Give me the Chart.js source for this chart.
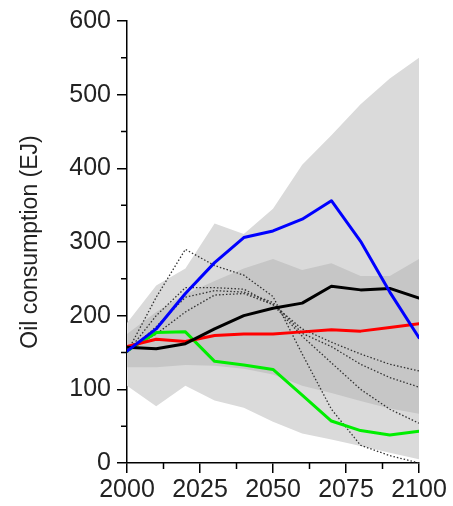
<!DOCTYPE html>
<html><head><meta charset="utf-8">
<script src="https://cdn.jsdelivr.net/npm/chart.js@4/dist/chart.umd.min.js"></script>
<style>html,body{margin:0;padding:0;background:#fff;overflow:hidden}</style>
</head><body>
<canvas id="c" width="453" height="506"></canvas>
<script>
// ---- data ----
const years = [2000, 2010, 2020, 2030, 2040, 2050, 2060, 2070, 2080, 2090, 2100];
const blueSeries  = [152, 182, 230, 272, 306, 315, 331, 356, 301, 232, 170];
const blackSeries = [157, 155, 162, 182, 200, 210, 217, 240, 235, 237, 224];
const redSeries   = [158, 168, 165, 173, 175, 175, 178, 181, 179, 184, 189];
const greenSeries = [152, 177, 178, 138, 133, 127, 92, 57, 44, 38, 43];
const dottedA = [150, 225, 290, 268, 255, 226, 148, 73, 24, 10, 0];
const dottedB = [150, 200, 238, 238, 236, 215, 172, 136, 100, 73, 54];
const dottedC = [150, 185, 225, 234, 232, 218, 176, 158, 134, 116, 103];
const dottedD = [152, 175, 205, 228, 230, 215, 182, 164, 148, 134, 125];
const outerUpper = [190, 241, 264, 325, 311, 345, 405, 445, 487, 522, 550];
const outerLower = [105, 77, 105, 85, 75, 56, 40, 32, 23, 14, 5];
const innerUpper = [175, 205, 229, 247, 264, 277, 262, 271, 254, 254, 277];
const innerLower = [130, 130, 133, 132, 128, 120, 105, 95, 84, 74, 67];
const xTickValues = [2000, 2025, 2050, 2075, 2100];
const xMinorTicks = [2012.5, 2037.5, 2062.5, 2087.5];
const yTickValues = [0, 100, 200, 300, 400, 500, 600];
const yMinorTicks = [50, 150, 250, 350, 450, 550];
const yTitle = 'Oil consumption (EJ)';

const pts = arr => years.map((y, i) => ({x: y, y: arr[i]}));
const line = (arr, color) => ({data: pts(arr), borderColor: color, borderWidth: 3, pointRadius: 0, fill: false, tension: 0, borderJoinStyle: 'round', borderCapStyle: 'round'});
const dotted = arr => ({data: pts(arr), borderColor: '#333', borderWidth: 1.3, borderDash: [1.5, 2], pointRadius: 0, fill: false, tension: 0});
const band = (arr, color, fill) => ({data: pts(arr), borderWidth: 0, borderColor: 'rgba(0,0,0,0)', backgroundColor: color, pointRadius: 0, fill: fill, tension: 0});

const datasets = [
  line(blueSeries, '#0000ff'),       // 0
  line(blackSeries, '#000000'),      // 1
  line(redSeries, '#ff0000'),        // 2
  line(greenSeries, '#00ee00'),      // 3
  dotted(dottedA), dotted(dottedB), dotted(dottedC), dotted(dottedD), // 4-7
  band(innerLower, '#c6c6c6', false),          // 8
  band(innerUpper, '#c6c6c6', {target: 8}),    // 9
  band(outerLower, '#dadada', false),          // 10
  band(outerUpper, '#dadada', {target: 10})    // 11
];

const FONT = "'Liberation Sans', Arial, Helvetica, sans-serif";

const minorTicks = {
  id: 'minorTicks',
  afterDraw(chart) {
    const ctx = chart.ctx, xs = chart.scales.x, ys = chart.scales.y;
    ctx.save();
    ctx.strokeStyle = '#000';
    ctx.lineWidth = 1.5;
    ctx.beginPath();
    xMinorTicks.forEach(v => { const px = xs.getPixelForValue(v); ctx.moveTo(px, xs.top); ctx.lineTo(px, xs.top + 6); });
    yMinorTicks.forEach(v => { const py = ys.getPixelForValue(v); ctx.moveTo(ys.right, py); ctx.lineTo(ys.right - 6, py); });
    ctx.stroke();
    ctx.restore();
  }
};

new Chart(document.getElementById('c'), {
  type: 'line',
  data: {datasets},
  plugins: [minorTicks],
  options: {
    responsive: false,
    animation: false,
    events: [],
    layout: {padding: {top: 20, right: 34, left: 0, bottom: 0}},
    plugins: {legend: {display: false}, tooltip: {enabled: false}, filler: {drawTime: 'beforeDatasetsDraw'}},
    scales: {
      x: {
        type: 'linear', min: 2000, max: 2100,
        afterBuildTicks: s => { s.ticks = xTickValues.map(v => ({value: v})); },
        afterFit: s => { s.height = 43; },
        border: {color: '#000', width: 1.5},
        grid: {drawOnChartArea: false, tickLength: 10, color: '#000', lineWidth: 1.5},
        ticks: {font: {family: FONT, size: 25}, color: '#222', padding: 2, maxRotation: 0, autoSkip: false,
                callback: v => String(v)}
      },
      y: {
        type: 'linear', min: 0, max: 600,
        afterBuildTicks: s => { s.ticks = yTickValues.map(v => ({value: v})); },
        afterFit: s => { s.width = 127; },
        border: {color: '#000', width: 1.5},
        grid: {drawOnChartArea: false, tickLength: 10, color: '#000', lineWidth: 1.5},
        ticks: {font: {family: FONT, size: 25}, color: '#222', padding: 6, callback: v => String(v)},
        title: {display: true, text: yTitle, font: {family: FONT, size: 23}, color: '#222', padding: {top: 17, bottom: 0}}
      }
    }
  }
});
</script>
</body></html>
